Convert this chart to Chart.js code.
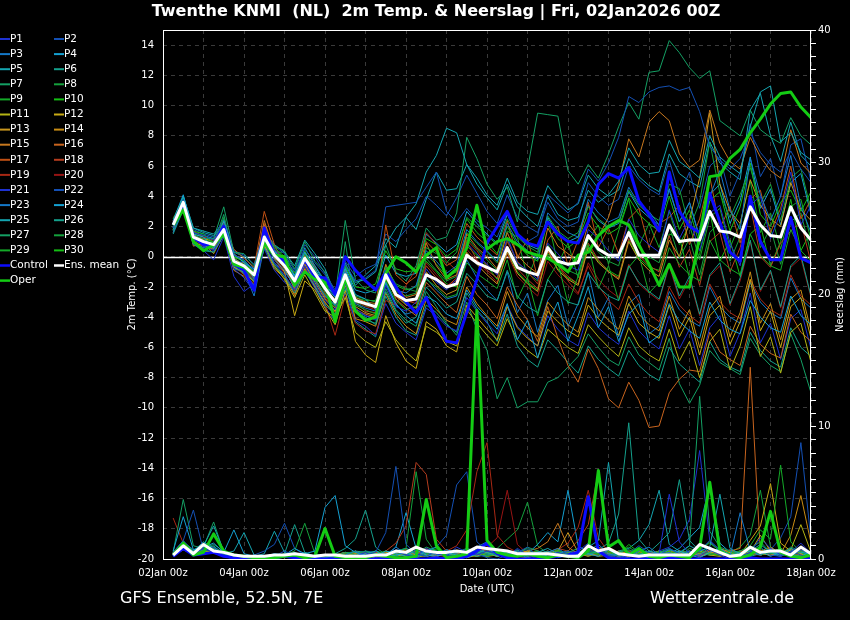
<!DOCTYPE html>
<html>
<head>
<meta charset="utf-8">
<title>Twenthe KNMI (NL) 2m Temp. &amp; Neerslag</title>
<script src="https://cdn.jsdelivr.net/npm/chart.js@4.4.1/dist/chart.umd.min.js"></script>
<style>
    html, body { margin: 0; padding: 0; background: #000; }
    canvas { display: block; }
</style>
</head>
<body>
<canvas id="ens" width="850" height="620"></canvas>
<script>

/* =================================================================
    Data (6-hourly, first value at 02Jan 06z)
================================================================= */

var xTickLabels = ["02Jan 00z", "04Jan 00z", "06Jan 00z", "08Jan 00z", "10Jan 00z",
    "12Jan 00z", "14Jan 00z", "16Jan 00z", "18Jan 00z"];
var stepHours = 6;

var controlTemp = [
    2.1, 3.4, 1.3, 0.8, 0.8, 2.0, -0.5, -0.9, -2.2, 1.9, 0.1, -0.3, -1.7, -0.2, -1.3, -1.4,
    -2.5, 0.0, -0.9, -1.6, -2.2, -1.0, -2.0, -3.0, -3.7, -2.7, -4.2, -5.6, -5.7, -3.7, -1.5, 0.9,
    2.0, 3.0, 1.5, 0.9, 0.7, 2.3, 1.5, 1.0, 0.9, 2.3, 4.8, 5.5, 5.2, 5.9, 3.7, 2.8,
    1.7, 5.6, 3.0, 2.0, 1.6, 4.2, 2.3, 0.3, -0.3, 4.0, 1.0, -0.2, -0.2, 2.6, -0.1, -0.4
];
var operTemp = [
    2.1, 3.1, 1.0, 0.4, 0.8, 1.5, -0.5, -0.7, -1.2, 0.9, 0.1, 0.0, -1.9, -1.0, -1.5, -1.7,
    -4.3, -1.4, -3.6, -4.2, -4.0, -1.1, 0.0, -0.4, -1.0, 0.1, 0.6, -1.4, -0.8, 0.6, 3.4, 0.5,
    1.0, 1.2, 0.8, 0.3, 0.1, -0.1, -0.5, -1.0, 0.1, 0.3, 1.4, 2.0, 2.4, 2.1, 0.8, -0.5,
    -1.9, -0.5, -2.0, -2.0, 1.3, 5.3, 5.4, 6.5, 7.1, 8.2, 9.1, 10.1, 10.8, 10.9, 9.9, 9.2
];
var meanTemp = [
    2.1, 3.6, 1.3, 1.0, 0.8, 1.8, -0.3, -0.6, -1.2, 1.3, 0.1, -0.6, -1.6, -0.1, -1.1, -2.1,
    -3.0, -1.2, -2.9, -3.1, -3.3, -1.2, -2.5, -2.9, -2.8, -1.2, -1.5, -2.0, -1.8, 0.1, -0.4, -0.7,
    -1.0, 0.6, -0.7, -1.0, -1.2, 0.6, -0.3, -0.5, -0.4, 1.4, 0.5, 0.1, 0.1, 1.6, 0.1, 0.1,
    0.1, 2.1, 1.0, 1.1, 1.1, 3.0, 1.7, 1.6, 1.3, 3.3, 2.1, 1.4, 1.3, 3.3, 1.9, 1.1
];

var tempP01 = [
    1.9, 3.4, 1.2, 0.7, 0.4, 1.5, -0.8, -1.4, -2.3, 0.9, -0.4, -1.2, -2.2, -0.6, -1.8, -2.9,
    -3.5, -1.8, -3.4, -3.9, -4.2, -1.9, -3.3, -3.6, -3.0, -0.8, -1.7, -2.2, -1.5, 0.9, 0.2, -0.5,
    -1.2, 1.3, -0.4, -0.9, -1.5, 0.9, 0.2, -0.6, -0.9, 1.8, 1.2, 0.4, -0.3, 2.5, 1.4, 0.8,
    0.3, 3.1, 1.2, 2.5, 0.4, 2.9, 3.4, 0.9, -0.6, 3.4, 4.0, 1.2, 2.9, 5.6, 2.1, 3.4
];
var tempP02 = [
    2.3, 3.8, 1.6, 1.4, 1.1, 2.2, 0.1, -0.2, -0.9, 1.6, 0.5, -0.1, -1.0, 0.5, -0.4, -1.2,
    -2.4, -0.5, -1.6, -1.4, -0.9, 3.3, 3.4, 3.5, 3.6, 4.6, 5.6, 3.0, 2.3, 3.2, 2.4, 1.9,
    1.3, 2.9, 1.5, 1.0, 1.4, 4.1, 3.5, 2.9, 3.6, 5.8, 5.0, 6.2, 7.9, 10.6, 10.2, 10.9,
    11.2, 11.3, 11.0, 11.2, 9.6, 7.3, 6.4, 5.8, 6.5, 8.2, 6.9, 6.1, 5.6, 7.0, 5.8, 4.9
];
var tempP03 = [
    1.6, 3.2, 0.8, 0.6, 0.9, 1.6, -0.5, -0.3, -1.5, 1.1, -0.2, -0.9, -2.0, -0.3, -1.6, -2.6,
    -3.2, -1.0, -3.1, -3.4, -3.6, -0.9, -2.2, -2.4, -1.9, 0.4, -0.3, -1.1, -0.6, 1.8, 1.0, 0.4,
    -0.3, 2.2, 1.0, 0.4, -0.2, 2.9, 2.2, 1.6, 1.3, 3.8, 2.9, 2.3, 2.6, 4.6, 3.5, 3.0,
    2.1, 4.4, 2.3, 3.6, 1.2, 4.0, 5.7, 3.1, 1.8, 6.5, 4.1, 2.4, 4.0, 6.7, 3.3, 1.6
];
var tempP04 = [
    2.4, 4.1, 1.5, 1.3, 0.5, 2.4, 0.2, -0.4, -0.8, 1.8, 0.3, -0.2, -1.3, 0.3, -0.8, -1.9,
    -2.7, -0.8, -2.5, -2.8, -3.5, -1.7, -3.1, -3.9, -4.4, -2.6, -3.0, -3.8, -4.1, -2.2, -3.3, -4.0,
    -4.8, -3.1, -5.5, -4.2, -6.7, -4.4, -3.0, -5.6, -3.9, -2.0, -4.7, -3.3, -5.6, -3.8, -3.1, -5.7,
    -5.2, -3.1, -4.3, -4.9, -5.4, -3.0, -4.2, -4.8, -5.1, -2.9, -4.0, -4.7, -5.0, -2.6, -3.9, -4.5
];
var tempP05 = [
    1.8, 4.0, 1.9, 1.6, 1.4, 2.0, -0.1, -0.9, -1.6, 1.0, 0.4, -0.4, -1.4, 0.6, -0.6, -1.6,
    -2.3, -0.4, -1.9, -1.2, -0.6, 0.8, 1.9, 2.6, 3.5, 5.6, 6.7, 8.5, 8.2, 6.1, 4.8, 3.9,
    3.1, 4.8, 3.3, 2.6, 2.0, 4.0, 2.8, 2.4, 2.6, 4.4, 3.6, 4.1, 5.0, 7.2, 6.1, 5.5,
    5.6, 7.7, 6.3, 5.8, 5.2, 8.0, 6.6, 6.0, 5.5, 8.6, 10.9, 11.3, 7.6, 8.2, 6.9, 6.4
];
var tempP06 = [
    1.5, 3.1, 1.0, 0.4, 0.3, 1.4, -0.6, -1.1, -1.9, 0.6, -0.5, -1.3, -2.4, -1.0, -1.9, -3.2,
    -3.8, -2.1, -3.7, -4.0, -4.5, -2.3, -3.6, -4.4, -4.0, -2.0, -2.7, -3.4, -3.0, -1.1, -1.8, -2.6,
    -2.9, -0.9, -2.6, -3.3, -3.7, -1.5, -2.4, -3.0, -3.2, -1.1, -2.0, -2.6, -2.9, -0.6, -1.7, -2.3,
    -2.8, -0.5, -2.6, -1.3, -3.8, -1.2, -0.4, -3.1, -1.4, 1.1, -2.2, -0.9, -3.3, -0.6, 0.1, -2.6
];
var tempP07 = [
    2.2, 3.5, 1.4, 1.2, 1.2, 3.3, 0.3, 0.2, -0.6, 1.4, 0.7, 0.4, -0.8, 1.0, -0.3, -1.0,
    -2.6, 2.4, -1.5, -2.2, -2.4, 0.8, -1.0, -1.6, -0.6, 1.9, 1.1, 1.3, 2.9, 7.9, 6.5, 4.8,
    3.8, 4.6, 2.3, 5.8, 9.5, 9.4, 9.3, 5.7, 4.8, 6.1, 5.2, 6.8, 8.6, 10.2, 9.1, 12.2,
    12.3, 14.3, 13.5, 12.5, 11.8, 12.3, 9.0, 8.5, 8.0, 9.7, 8.4, 7.9, 7.5, 9.2, 8.0, 7.4
];
var tempP08 = [
    2.0, 3.7, 1.1, 0.9, 0.6, 2.6, -0.2, -0.8, -1.3, 1.5, 0.0, -0.7, -1.7, 0.2, -1.2, -2.3,
    -2.9, -1.0, -2.6, -2.8, -3.0, -0.7, -1.8, -2.1, -2.3, 0.6, 0.2, -0.4, 0.3, 2.6, 2.0, 1.4,
    0.8, 2.5, 1.3, 0.7, 0.3, 2.7, 1.7, 1.2, 1.6, 3.3, 2.5, 2.0, 2.3, 4.4, 3.4, 2.8,
    2.4, 4.8, 4.5, 1.9, 3.6, 7.6, 4.2, 2.6, 4.1, 5.9, 3.5, 4.8, 2.4, 5.2, 5.8, 3.1
];
var tempP09 = [
    1.7, 3.3, 0.9, 1.1, 1.0, 1.7, -0.4, -0.5, -1.0, 1.2, 0.2, -0.5, -1.5, -0.2, -1.4, -2.5,
    -3.3, -1.5, -3.2, -3.5, -3.8, -1.6, -2.9, -3.5, -3.3, -1.5, -2.0, -2.7, -2.5, -0.4, -1.1, -1.6,
    -2.1, -0.2, -2.8, -1.4, -3.9, -1.5, -0.4, -3.1, -1.3, 0.8, -2.1, -0.6, -2.9, -0.7, 0.1, -2.4,
    -1.7, 0.6, -0.5, -1.2, -1.6, 1.1, -0.2, -0.8, -1.2, 1.5, 0.1, -0.6, -0.9, 1.8, 0.4, -0.3
];
var tempP10 = [
    2.5, 3.9, 1.7, 1.5, 0.9, 2.1, 0.0, -0.3, -1.1, 1.7, 0.6, 0.0, -1.1, 0.4, -0.9, -1.7,
    -2.5, -0.6, -2.0, -2.1, -1.8, 0.4, -0.8, -1.0, -0.9, 1.2, 0.8, 0.0, 0.5, 2.5, 1.6, 1.0,
    0.2, 2.0, 0.8, 0.1, -0.3, 2.4, 1.2, 0.6, 1.1, 2.9, 2.0, 1.5, 1.9, 3.9, 2.8, 2.2,
    1.7, 4.0, 1.8, 3.1, 0.8, 3.7, 4.3, 1.7, 3.3, 6.2, 2.8, 2.0, 3.6, 4.4, 3.0, 4.3
];
var tempP11 = [
    2.1, 3.5, 1.2, 0.8, 0.7, 1.9, -0.7, -1.0, -1.7, 0.8, -0.6, -1.5, -2.7, -1.2, -2.4, -3.6,
    -4.0, -2.7, -5.0, -5.6, -6.0, -4.3, -5.5, -6.3, -6.9, -4.6, -5.0, -5.6, -5.9, -3.5, -4.4, -5.2,
    -5.9, -4.1, -5.5, -6.2, -6.7, -4.8, -5.4, -6.0, -6.4, -4.5, -5.3, -6.0, -6.6, -4.7, -5.9, -6.5,
    -6.9, -4.8, -6.9, -5.6, -8.0, -5.6, -4.8, -7.5, -5.9, -3.3, -6.6, -5.3, -7.7, -5.0, -4.4, -7.0
];
var tempP12 = [
    1.9, 3.6, 1.5, 1.0, 0.6, 1.6, -0.3, -0.7, -1.4, 1.2, -0.1, -1.0, -3.9, -1.6, -2.2, -3.4,
    -4.5, -2.2, -5.6, -6.5, -7.0, -3.9, -5.7, -6.9, -7.4, -4.3, -4.8, -5.9, -6.3, -3.2, -4.0, -4.8,
    -5.5, -3.3, -4.7, -5.4, -5.9, -3.6, -4.3, -4.9, -5.3, -3.2, -4.1, -4.7, -5.2, -3.1, -4.4, -5.0,
    -5.4, -3.2, -5.3, -4.0, -6.5, -3.9, -3.2, -5.8, -4.3, -1.5, -4.9, -3.6, -6.0, -3.3, -2.7, -5.4
];
var tempP13 = [
    2.3, 3.4, 1.3, 1.2, 1.0, 2.3, -0.1, -0.6, -1.2, 1.9, 0.2, -0.8, -2.1, -0.5, -1.7, -2.8,
    -3.6, -1.9, -3.3, -3.7, -3.9, -1.4, -2.6, -3.2, -3.4, -1.0, -1.9, -2.5, -2.2, 0.3, -0.5, -1.2,
    -1.8, 0.3, -1.1, -1.8, -2.3, 0.4, -0.9, -1.5, -1.9, 0.6, -0.4, -1.0, -1.5, 1.0, -0.2, -0.9,
    -1.3, 1.1, 0.0, 2.4, 5.2, 9.5, 4.8, 3.0, 2.2, 5.1, 3.4, 2.5, 2.0, 4.9, 3.1, 2.4
];
var tempP14 = [
    1.8, 3.7, 0.7, 0.9, 0.2, 1.5, -0.9, -1.3, -2.0, 0.7, -0.8, -1.4, -2.5, -0.8, -2.0, -3.0,
    -3.9, -1.4, -4.1, -4.3, -4.6, -2.4, -3.8, -4.6, -5.1, -2.8, -3.5, -4.2, -4.5, -2.0, -3.1, -3.9,
    -4.6, -2.3, -3.9, -4.7, -5.3, -3.0, -3.8, -4.5, -5.0, -2.7, -3.5, -4.2, -4.8, -2.6, -3.8, -4.5,
    -4.9, -2.6, -4.8, -3.5, -6.0, -3.4, -2.6, -5.3, -3.7, -1.0, -4.4, -3.1, -5.5, -2.8, -2.2, -4.9
];
var tempP15 = [
    2.0, 3.3, 1.4, 1.1, 0.7, 2.0, -0.4, -0.4, -1.1, 2.4, 0.3, -0.3, -1.4, 0.1, -1.0, -2.2,
    -2.8, -0.9, -2.7, -3.0, -3.1, -0.5, -2.0, -2.7, -2.5, 0.9, -0.6, -1.5, -1.2, 1.5, 0.6, 0.0,
    -0.8, 1.6, 0.1, -0.6, -1.1, 1.9, 0.7, 0.2, -0.3, 2.2, 1.3, 2.6, 4.8, 7.8, 6.6, 8.9,
    9.6, 9.0, 6.8, 5.9, 6.4, 9.7, 7.5, 6.3, 5.8, 7.9, 6.6, 5.7, 5.2, 8.4, 6.2, 5.5
];
var tempP16 = [
    2.2, 3.8, 1.0, 0.7, 0.5, 1.7, -0.5, -0.9, -1.6, 2.1, 0.1, -0.6, -1.8, -0.4, -1.5, -2.7,
    -3.4, -1.6, -3.5, -3.8, -4.0, -1.1, -2.8, -3.4, -3.9, -1.7, -2.4, -3.1, -3.7, -1.3, -2.5, -3.2,
    -4.1, -2.0, -3.2, -4.2, -5.6, -3.3, -5.4, -7.2, -8.3, -6.1, -7.4, -9.4, -10.0, -8.3, -9.5, -11.3,
    -11.2, -9.0, -8.1, -7.5, -7.6, -5.0, -6.3, -6.8, -7.2, -4.6, -5.8, -6.4, -6.7, -3.8, -5.0, -5.6
];
var tempP17 = [
    1.6, 3.5, 1.3, 1.0, 0.8, 1.9, 0.5, -0.1, -0.7, 3.0, 0.8, -0.6, -2.0, -0.1, -1.3, -2.0,
    -3.1, -1.1, -2.8, -3.2, -3.4, 2.1, -1.2, -1.8, -1.3, 1.0, 0.3, -0.6, -0.2, 2.2, 1.3, 0.7,
    0.1, 2.4, -0.1, 1.2, -1.4, 1.1, 2.0, -0.6, 1.1, 3.6, 0.6, 1.9, 0.2, 2.5, 3.2, 0.6,
    2.2, 2.6, 3.4, 0.8, 2.5, 5.3, 1.9, 3.3, 0.9, 3.8, 4.4, 1.6, 3.2, 6.0, 2.5, 3.8
];
var tempP18 = [
    2.4, 3.6, 1.7, 1.3, 1.1, 2.1, 0.2, -0.4, -1.0, 2.2, 0.5, -0.2, -2.3, 0.3, -0.7, -2.4,
    -3.7, -1.3, -3.0, -3.6, -3.7, -0.8, -2.4, -2.9, -3.1, -0.6, -1.4, -2.0, -1.4, 1.0, -0.2, -0.9,
    -1.4, 0.7, -0.8, -1.5, -2.1, 0.4, -0.6, -1.3, -1.8, 0.9, -0.2, -1.0, -1.4, 1.2, 0.1, -0.6,
    -1.0, 1.4, -0.7, 0.5, -1.9, 1.0, 1.6, -1.0, 0.6, 3.4, 0.0, -0.7, 0.9, 1.7, 2.3, -0.4
];
var tempP19 = [
    2.6, 3.2, 1.1, 0.8, 0.9, 1.5, -0.6, -1.2, -1.8, 1.6, -0.2, -1.1, -2.6, -0.7, -1.9, -3.1,
    -5.2, -2.6, -4.4, -4.9, -5.1, -2.9, -3.2, -1.9, -0.8, 1.6, 0.8, -0.3, -0.9, 1.1, 0.4, -0.6,
    -1.1, 1.0, -0.3, -1.0, -1.8, 0.6, -0.5, -1.6, -2.4, -0.6, -1.9, -2.9, -3.5, -1.8, -3.0, -3.8,
    -4.3, -2.0, -3.2, -3.9, -4.4, -1.8, -3.0, -3.7, -4.1, -1.5, -2.8, -3.5, -3.9, -1.2, -2.6, -3.2
];
var tempP20 = [
    2.3, 3.6, 1.4, 1.2, 0.6, 2.2, -0.2, -0.7, -1.5, 1.4, 0.0, -0.9, -1.9, -0.3, -1.4, -2.6,
    -3.0, -1.2, -2.9, -3.3, -3.5, -1.3, -2.7, -3.0, -2.9, -0.4, -1.2, -1.9, -1.6, 0.5, -0.3, -1.0,
    -1.7, 0.2, -1.3, -2.0, -2.6, -0.3, -1.2, -1.9, -2.5, -0.4, -1.5, -2.2, -2.7, -0.5, -1.8, -2.4,
    -2.9, -0.6, -2.8, -1.5, -3.9, -1.3, -0.6, -3.2, -1.6, 1.0, -2.3, -1.0, -3.4, -0.7, -0.1, -2.7
];
var tempP21 = [
    1.7, 3.4, 0.8, 0.4, -0.2, 1.3, -1.3, -2.3, -1.8, 0.5, -0.9, -1.7, -2.2, -0.9, -2.1, -3.3,
    -4.3, -2.4, -4.2, -4.6, -5.2, -3.1, -4.4, -5.0, -5.5, -3.4, -3.9, -4.6, -4.9, -2.7, -3.6, -4.4,
    -5.1, -3.2, -4.6, -5.3, -5.9, -3.9, -4.8, -5.5, -5.9, -3.7, -4.7, -5.3, -5.8, -3.6, -4.9, -5.6,
    -6.1, -3.9, -6.1, -4.8, -7.2, -4.7, -3.9, -6.6, -5.0, -2.4, -5.7, -4.4, -6.8, -4.1, -3.5, -6.1
];
var tempP22 = [
    2.1, 3.9, 1.8, 1.5, 1.3, 2.5, 0.4, 0.1, -0.5, 1.8, 0.7, 0.2, -0.9, 0.8, 0.0, -1.1,
    -2.2, -0.3, -1.3, -0.8, -0.5, 1.5, 1.0, 1.8, 2.5, 4.0, 3.4, 2.7, 3.9, 5.4, 4.2, 3.0,
    2.2, 4.1, 2.6, 2.0, 1.6, 3.6, 2.5, 2.0, 2.3, 4.9, 4.0, 3.4, 3.8, 6.0, 5.1, 4.5,
    4.1, 6.4, 4.1, 5.6, 3.2, 6.0, 6.6, 4.0, 5.6, 8.8, 5.3, 6.5, 4.0, 7.4, 7.8, 5.0
];
var tempP23 = [
    1.9, 3.6, 1.0, 0.6, 0.5, 1.4, -0.8, -1.0, -2.6, 0.7, -0.4, -1.0, -1.9, -0.6, -1.5, -2.5,
    -3.3, -1.7, -3.6, -3.9, -4.1, -1.8, -3.2, -3.8, -3.6, -1.4, -2.2, -2.8, -2.6, -0.2, -1.4, -2.2,
    -2.9, -1.0, -3.7, -2.4, -5.0, -2.9, -1.9, -4.6, -3.1, -1.0, -4.0, -2.7, -5.3, -3.1, -2.5, -5.1,
    -4.6, -2.3, -3.5, -4.2, -4.6, -2.0, -3.3, -4.0, -4.4, -1.7, -3.0, -3.7, -4.1, -1.4, -2.8, -3.4
];
var tempP24 = [
    2.2, 3.7, 1.6, 1.4, 1.2, 2.0, 0.1, -0.2, -1.0, 1.5, 0.4, -0.3, -1.2, 0.2, -0.6, -1.8,
    -2.6, -0.7, -2.2, -2.4, -2.2, 0.1, -1.1, -1.3, -1.1, 1.5, 0.9, 0.3, 0.8, 3.0, 2.2, 1.5,
    0.9, 2.8, 1.4, 0.8, 0.5, 2.6, 1.5, 1.0, 1.3, 3.4, 2.4, 1.9, 2.2, 4.3, 3.2, 2.6,
    2.1, 4.5, 2.3, 3.6, 1.3, 4.1, 4.8, 2.2, 3.7, 6.6, 3.2, 4.5, 2.1, 4.9, 5.5, 2.8
];
var tempP25 = [
    2.0, 4.0, 1.9, 1.7, 1.5, 2.3, 0.3, 0.0, -0.8, 1.7, 0.8, 0.3, -0.6, 1.1, 0.2, -0.8,
    -2.5, -0.5, -1.7, -1.5, -1.0, 1.2, 0.6, 2.6, 1.8, 3.8, 5.6, 4.4, 4.5, 6.1, 5.2, 4.1,
    3.4, 5.2, 3.6, 3.0, 2.8, 4.7, 3.8, 3.1, 3.5, 5.4, 4.5, 4.0, 4.4, 6.5, 5.3, 4.7,
    4.3, 6.8, 5.5, 5.0, 4.6, 7.6, 6.2, 5.6, 5.1, 9.7, 10.8, 8.0, 6.3, 8.9, 6.7, 6.0
];
var tempP26 = [
    1.8, 3.3, 0.9, 0.5, 0.3, 1.6, -0.7, -1.1, -1.9, 0.9, -0.7, -1.3, -2.2, -0.7, -2.0, -3.1,
    -3.6, -1.9, -4.3, -4.8, -5.3, -2.6, -4.0, -4.9, -5.2, -3.2, -3.7, -4.5, -5.0, -2.4, -3.5, -4.3,
    -5.6, -3.8, -5.9, -6.8, -7.3, -5.5, -6.2, -7.0, -7.7, -5.9, -6.8, -7.4, -7.9, -6.2, -7.2, -7.8,
    -8.2, -6.0, -7.1, -7.7, -8.3, -5.6, -6.8, -7.3, -7.6, -5.0, -6.2, -6.9, -7.3, -4.7, -6.0, -6.6
];
var tempP27 = [
    2.1, 3.6, 1.1, 1.0, 0.9, 2.8, -0.1, -0.5, -1.1, 1.6, 0.3, 0.3, -1.3, 0.2, -0.9, -2.0,
    -4.4, 1.0, -3.5, -4.2, -4.4, -2.1, -3.5, -4.2, -4.6, -2.3, -3.3, -4.4, -5.2, -3.0, -4.8, -6.2,
    -9.4, -8.0, -10.0, -9.6, -9.6, -8.3, -8.0, -7.3, -6.6, -5.1, -6.0, -6.8, -7.2, -5.3, -6.5, -7.0,
    -7.5, -5.4, -8.4, -9.7, -8.5, -6.2, -7.0, -7.4, -7.8, -5.4, -6.5, -7.2, -7.6, -5.1, -6.8, -9.0
];
var tempP28 = [
    1.9, 3.5, 1.3, 0.8, 0.6, 1.8, -0.4, -0.8, -1.5, 1.1, 0.0, -0.6, -1.7, -0.1, -1.2, -2.2,
    -3.0, -1.5, -3.0, -3.3, -3.2, -1.0, -2.3, -2.6, -2.4, -0.1, -0.9, -1.6, -1.3, 1.3, 0.5, -0.2,
    -0.9, 1.1, -0.4, -1.1, -1.6, 0.8, -0.3, -0.9, -1.2, 1.3, 0.3, -0.3, -0.6, 1.8, 0.6, 0.0,
    -0.4, 2.0, -0.1, 1.2, -1.2, 1.6, 2.3, -0.3, 1.3, 4.0, 0.6, 1.9, -0.5, 2.3, 2.9, 0.2
];
var tempP29 = [
    2.4, 3.4, 1.2, 1.1, 1.0, 1.9, -0.3, -0.6, -1.2, 1.3, 0.1, -0.7, -1.6, 0.0, -1.1, -2.3,
    -2.9, -1.2, -2.7, -2.9, -2.9, -0.6, -1.9, -2.2, -2.0, 0.2, -0.5, -1.3, -1.0, 1.6, 0.9, 0.3,
    -0.4, 1.7, 1.3, -1.4, 0.2, 2.5, -0.5, 0.9, -1.4, 1.1, 2.1, -0.5, 1.7, 3.8, 0.7, 2.2,
    0.6, 3.0, 0.8, 2.1, -0.2, 2.6, 3.2, 0.6, 2.2, 5.0, 1.6, 2.9, 0.5, 3.3, 3.8, 1.1
];
var tempP30 = [
    2.2, 3.7, 1.5, 1.3, 0.9, 2.2, 0.0, -0.3, -0.9, 1.5, 0.2, -0.4, -1.4, 0.3, -0.8, -1.9,
    -3.2, -1.4, -3.0, -3.1, -3.4, -1.5, -2.6, -3.1, -2.7, -0.3, -1.0, -1.8, -2.0, 0.7, 0.1, -0.6,
    -1.5, 0.5, -1.0, -1.7, -2.2, 0.2, -0.8, -1.4, -1.8, 0.7, -0.3, -0.9, -1.3, 1.1, -0.1, -0.7,
    -0.9, 1.5, 1.3, -1.4, 0.2, 3.0, -0.3, 1.1, -1.3, 1.5, 2.1, -0.6, 1.0, 3.8, 0.4, 1.7
];

var controlRain = [
    0.2, 0.8, 0.3, 0.4, 0.5, 0.2, 0.1, 0, 0, 0, 0.1, 0.2, 0.1, 0, 0, 0,
    0, 0, 0, 0, 0, 0, 0.1, 0, 0, 0, 0.1, 0, 0, 0.2, 0.6, 1.2,
    0.4, 0.1, 0, 0, 0, 0.1, 0.2, 0.3, 0.5, 4.7, 0.6, 0.1, 0, 0, 0, 0,
    0, 0.1, 0, 0, 0, 0, 0, 0, 0, 0.1, 0, 0, 0, 0, 0, 0
];
var operRain = [
    0.3, 1.2, 0.3, 0.5, 1.9, 0.6, 0.3, 0.2, 0.1, 0, 0.1, 0.2, 0.3, 0.1, 0.2, 2.3,
    0.2, 0.1, 0, 0.1, 0.3, 0.2, 0.1, 0.1, 0.2, 4.5, 1.0, 0.1, 0.2, 0.4, 18.8, 1.4,
    0.5, 0.3, 0.2, 0.4, 0.2, 0.1, 0.3, 0.2, 0.1, 0.6, 6.7, 0.9, 1.4, 0.3, 0.8, 0.2,
    0.1, 0.3, 0.2, 0.1, 0.8, 5.8, 0.6, 0.2, 0.1, 0.3, 0.9, 3.6, 0.5, 0.2, 0.1, 0.3
];
var meanRain = [
    0.3, 1.0, 0.4, 1.1, 0.6, 0.5, 0.3, 0.2, 0.2, 0.2, 0.3, 0.3, 0.4, 0.3, 0.2, 0.3,
    0.3, 0.2, 0.2, 0.2, 0.3, 0.3, 0.6, 0.5, 0.9, 0.6, 0.5, 0.5, 0.6, 0.5, 0.9, 0.8,
    0.7, 0.6, 0.4, 0.4, 0.4, 0.4, 0.3, 0.2, 0.2, 1.0, 0.6, 0.8, 0.4, 0.3, 0.2, 0.3,
    0.3, 0.3, 0.3, 0.3, 1.1, 0.8, 0.5, 0.2, 0.3, 0.9, 0.5, 0.6, 0.6, 0.3, 0.9, 0.4
];

var rainP01 = [
    0.3, 1.0, 0.4, 0.8, 0.5, 0.2, 0, 0, 0, 0.1, 0.3, 0.2, 0.4, 0, 0, 0,
    0, 0, 0.2, 0.5, 0.1, 0, 0.6, 0.3, 0.2, 0.8, 0.4, 0.2, 0.9, 0.5, 0.3, 0.6,
    0.4, 0.2, 0.8, 0.3, 0, 0.2, 0.5, 0.1, 0.6, 1.2, 0.5, 0.2, 0, 0.3, 0.8, 0.2,
    0.4, 4.9, 1.3, 0.4, 0.2, 0.7, 0.3, 0, 0.2, 0.5, 1.6, 0.8, 0.3, 0.5, 1.2, 0.4
];
var rainP02 = [
    0.5, 1.4, 3.7, 0.6, 0.9, 0.3, 0.1, 0, 0, 0, 0.2, 0.6, 0.3, 0.1, 0, 0,
    0.2, 0, 0, 0.3, 0.5, 2.0, 7.0, 1.1, 0.4, 0.2, 0.6, 0.3, 0.2, 0.8, 0.4, 0.1,
    0, 0.3, 0.5, 0.9, 0.2, 0, 0.3, 0.6, 0.2, 0.5, 0.8, 0.3, 0.1, 0.4, 1.0, 0.5,
    0.3, 0.8, 0.4, 0.2, 0.6, 1.4, 0.7, 0.2, 0, 0.4, 0.9, 0.3, 0.2, 0.6, 0.3, 0.1
];
var rainP03 = [
    0.2, 0.8, 0.5, 1.1, 0.6, 0.4, 0.2, 0, 0.1, 0, 0, 0.4, 0.2, 0, 0.1, 0,
    0, 0.3, 0.6, 0.2, 0, 0.2, 0.9, 0.4, 0.1, 0.5, 0.3, 0.7, 0.4, 0.2, 0.9, 1.3,
    0.5, 0.2, 0.4, 0.1, 0, 0.5, 0.8, 0.3, 0.2, 0.6, 1.1, 0.4, 0.2, 0.1, 0.6, 0.9,
    0.3, 0.5, 0.2, 0.6, 0.3, 0.9, 0.4, 0.2, 3.5, 0.6, 0.3, 0.8, 0.4, 0.2, 0.7, 0.3
];
var rainP04 = [
    0.6, 3.2, 0.7, 0.9, 1.2, 0.5, 0.3, 0.1, 0, 0.2, 0.4, 0.3, 0.8, 0.4, 0.6, 3.9,
    4.8, 1.0, 0.5, 0.3, 0.2, 0.6, 0.4, 0.2, 0.7, 0.3, 0.2, 0.5, 0.3, 0.1, 0.4, 0.8,
    0.3, 0.6, 0.2, 0.4, 0.5, 0.2, 0.1, 0.3, 0.6, 0.4, 0.2, 0.7, 0.3, 0.5, 0.2, 0.1,
    0.4, 0.2, 0.6, 0.3, 0.1, 0.5, 0.8, 0.3, 0.2, 0.4, 0.6, 0.2, 0.5, 0.3, 0.2, 0.6
];
var rainP05 = [
    0.4, 1.1, 0.6, 1.3, 0.8, 0.4, 0.6, 2.0, 0.3, 0.1, 0, 0.2, 0.5, 0.2, 0, 0.1,
    0.3, 0, 0.2, 0.4, 0.6, 0.2, 0.3, 0.5, 0.2, 0.6, 0.9, 0.4, 0.2, 0.3, 0.7, 0.5,
    0.2, 0.4, 0.6, 0.3, 0.5, 0.8, 0.4, 0.6, 0.3, 0.9, 1.4, 7.3, 1.2, 0.5, 0.3, 0.6,
    0.4, 0.7, 0.5, 1.0, 0.6, 0.9, 4.9, 0.8, 0.4, 0.6, 1.1, 0.5, 0.3, 0.8, 0.5, 0.4
];
var rainP06 = [
    0.3, 0.9, 0.5, 0.7, 1.0, 0.3, 0.2, 0.1, 0, 0, 0.3, 0.1, 0.2, 0.5, 0.2, 0,
    0.4, 0.8, 1.5, 3.7, 0.9, 0.3, 0.2, 0.6, 0.4, 0.2, 0.5, 0.3, 0.6, 0.4, 0.2, 0.3,
    0.5, 0.3, 0.7, 0.2, 0.4, 0.6, 0.3, 0.2, 0.5, 0.3, 0.6, 0.2, 0.4, 0.3, 0.7, 0.5,
    1.2, 2.0, 6.0, 1.4, 0.6, 0.9, 0.4, 0.3, 0.5, 0.2, 0.4, 0.7, 0.3, 0.5, 0.9, 0.4
];
var rainP07 = [
    0.5, 4.5, 1.0, 0.8, 1.1, 0.6, 0.3, 0.2, 0.1, 0, 0.2, 0.3, 0.1, 0.4, 0.2, 0,
    0.2, 0.5, 0.3, 0.6, 0.4, 0.2, 0.5, 0.8, 0.4, 0.9, 0.6, 0.3, 0.5, 0.8, 0.6, 0.4,
    0.7, 0.5, 0.3, 0.9, 0.6, 0.4, 0.2, 0.5, 0.8, 0.4, 0.6, 0.3, 0.5, 0.7, 0.4, 0.2,
    0.5, 0.8, 0.4, 1.0, 12.3, 2.1, 0.9, 0.6, 0.4, 0.8, 1.3, 0.5, 0.3, 0.9, 0.6, 0.4
];
var rainP08 = [
    0.2, 0.9, 0.4, 0.6, 0.7, 0.3, 0.1, 0, 0, 0.2, 0.1, 0.3, 0.6, 2.7, 0.4, 0.2,
    0, 0.3, 0.2, 0.5, 0.4, 0.1, 0.6, 0.8, 6.6, 1.5, 0.4, 0.3, 0.2, 0.5, 0.6, 0.3,
    0.4, 0.2, 0.5, 0.8, 0.3, 0.2, 0.6, 0.4, 0.3, 0.7, 0.4, 0.2, 0.5, 0.9, 0.4, 0.3,
    0.6, 0.4, 0.2, 0.8, 0.5, 0.3, 0.6, 0.2, 0.4, 0.7, 0.3, 0.5, 0.8, 0.4, 0.2, 0.6
];
var rainP09 = [
    0.4, 1.3, 0.6, 0.9, 0.8, 0.5, 0.2, 0.1, 0, 0, 0.2, 0.4, 0.3, 0.1, 0, 0.2,
    0.1, 0.4, 0.6, 0.3, 0.2, 0.4, 0.5, 0.3, 0.2, 0.4, 0.7, 0.5, 0.3, 0.2, 0.4, 0.6,
    0.3, 0.5, 0.2, 0.4, 0.6, 0.3, 0.5, 0.2, 0.4, 0.6, 0.3, 0.5, 0.2, 0.4, 0.7, 0.3,
    0.5, 0.3, 0.6, 0.4, 0.8, 1.2, 0.6, 0.4, 0.6, 1.0, 2.2, 1.5, 7.1, 1.3, 0.5, 0.3
];
var rainP10 = [
    0.3, 1.0, 0.5, 0.7, 0.9, 0.4, 0.2, 0, 0.1, 0, 0, 0.3, 0.2, 0.4, 0.1, 0,
    0.2, 0.3, 0.5, 0.2, 0.4, 0.6, 0.3, 0.5, 0.2, 0.3, 0.8, 0.4, 0.6, 0.3, 0.5, 0.2,
    0.4, 0.6, 0.3, 0.2, 0.5, 0.4, 0.7, 0.3, 0.2, 0.5, 0.4, 0.6, 0.3, 1.1, 0.5, 0.2,
    0.4, 0.6, 0.3, 0.5, 0.7, 0.4, 0.3, 0.6, 0.2, 0.5, 0.8, 0.4, 0.6, 0.3, 0.5, 0.2
];
var rainP11 = [
    0.2, 0.7, 0.3, 0.5, 0.6, 0.2, 0.1, 0, 0, 0, 0.1, 0.2, 0.1, 0, 0, 0,
    0.1, 0.2, 0.3, 0.1, 0, 0.2, 0.4, 0.2, 0.1, 0.3, 0.2, 0.4, 0.2, 0.1, 0.3, 0.5,
    0.2, 0.4, 0.2, 0.1, 0.3, 0.5, 0.2, 0.4, 0.3, 0.6, 0.4, 0.2, 0.1, 0.3, 0.5, 0.2,
    0.1, 0.3, 0.2, 0.4, 0.6, 0.3, 0.2, 0.4, 0.3, 0.5, 1.8, 0.6, 0.3, 0.7, 2.6, 0.5
];
var rainP12 = [
    0.3, 0.8, 0.4, 0.6, 0.5, 0.3, 0.1, 0, 0, 0.1, 0, 0.2, 0.3, 0.1, 0, 0,
    0, 0.2, 0.4, 0.2, 0.1, 0.3, 0.2, 0.4, 0.2, 0.5, 0.3, 0.2, 0.4, 0.3, 0.2, 0.6,
    0.3, 0.2, 0.4, 0.6, 0.3, 0.2, 0.4, 0.3, 0.5, 0.4, 0.2, 0.3, 0.6, 0.4, 0.2, 0.3,
    0.4, 0.6, 0.3, 0.5, 0.2, 0.4, 0.8, 0.5, 0.3, 1.4, 2.5, 5.7, 1.2, 0.6, 0.3, 0.4
];
var rainP13 = [
    0.4, 1.2, 0.5, 0.8, 0.7, 0.4, 0.2, 0.1, 0, 0, 0.2, 0.1, 0.3, 0.2, 0, 0.1,
    0.3, 0.5, 0.2, 0.4, 0.3, 0.1, 0.5, 0.7, 0.3, 0.2, 0.4, 0.6, 0.3, 0.5, 0.2, 0.4,
    0.6, 0.3, 0.5, 0.2, 0.4, 0.3, 0.6, 2.0, 0.5, 0.3, 0.6, 0.4, 0.2, 0.5, 0.3, 0.4,
    0.6, 0.3, 0.5, 0.2, 0.4, 0.7, 0.3, 0.5, 0.2, 0.6, 0.4, 0.3, 0.5, 0.8, 0.4, 0.3
];
var rainP14 = [
    0.3, 0.9, 0.4, 0.7, 0.6, 0.3, 0.2, 0, 0.1, 0, 0.1, 0.3, 0.2, 0, 0.2, 0.1,
    0.4, 0.2, 0.6, 0.3, 0.2, 0.5, 0.3, 0.4, 0.5, 0.3, 0.2, 0.4, 0.6, 0.3, 0.4, 0.2,
    0.3, 0.5, 0.2, 0.4, 0.6, 0.3, 0.2, 0.5, 0.4, 0.2, 0.6, 0.3, 0.5, 0.2, 0.4, 0.6,
    0.3, 0.5, 0.2, 0.4, 0.3, 0.6, 0.4, 0.2, 0.5, 0.3, 0.6, 0.9, 0.4, 1.8, 4.8, 1.2
];
var rainP15 = [
    0.2, 0.8, 0.3, 0.6, 0.5, 0.2, 0.1, 0, 0, 0.1, 0.2, 0.1, 0.2, 0.3, 0.1, 0,
    0.2, 0.4, 0.3, 0.5, 0.2, 0.3, 0.6, 0.4, 0.3, 0.5, 0.4, 0.2, 0.3, 0.6, 0.4, 0.5,
    0.3, 0.2, 0.4, 0.6, 0.8, 1.3, 2.7, 0.9, 0.4, 0.6, 0.3, 0.5, 0.2, 0.4, 0.6, 0.3,
    0.5, 0.3, 0.6, 0.4, 0.2, 0.5, 0.3, 0.6, 0.4, 0.7, 0.3, 0.5, 0.8, 0.4, 0.6, 0.3
];
var rainP16 = [
    0.4, 1.1, 0.5, 0.7, 0.8, 0.3, 0.1, 0, 0, 0, 0.2, 0.3, 0.1, 0.2, 0, 0,
    0.1, 0.3, 0.5, 0.2, 0.4, 0.3, 0.5, 0.6, 0.4, 0.2, 0.5, 0.3, 0.4, 0.6, 0.3, 0.4,
    0.2, 0.5, 0.3, 0.4, 0.2, 0.6, 0.4, 0.3, 0.5, 0.3, 0.4, 0.6, 0.3, 0.2, 0.5, 0.4,
    0.3, 0.6, 0.4, 0.2, 0.5, 0.3, 0.4, 0.6, 0.8, 14.5, 0.5, 0.3, 0.6, 0.4, 0.2, 0.5
];
var rainP17 = [
    0.3, 1.0, 0.4, 0.6, 0.7, 0.3, 0.1, 0, 0, 0.1, 0, 0.2, 0.4, 0.2, 0.1, 0,
    0.2, 0.4, 0.3, 0.2, 0.5, 0.3, 0.4, 0.2, 0.6, 0.3, 0.5, 0.2, 0.4, 0.3, 0.6, 0.8,
    0.4, 0.6, 0.3, 0.5, 0.2, 0.4, 0.3, 0.6, 0.4, 0.5, 0.9, 0.6, 0.3, 0.5, 0.2, 0.4,
    0.3, 0.6, 0.4, 0.5, 0.3, 0.7, 0.4, 0.3, 0.6, 0.4, 0.3, 0.5, 0.7, 0.3, 0.5, 0.4
];
var rainP18 = [
    0.5, 1.3, 0.6, 0.8, 0.9, 0.4, 0.2, 0.1, 0, 0, 0.3, 0.2, 0.1, 0.3, 0, 0.2,
    0.3, 0.2, 0.5, 0.4, 0.3, 0.6, 1.2, 2.5, 7.3, 6.4, 1.5, 0.6, 0.4, 0.3, 0.5, 0.7,
    0.5, 0.3, 0.6, 0.4, 0.3, 0.5, 0.8, 0.6, 1.4, 2.6, 6.6, 0.9, 0.5, 0.3, 0.6, 0.4,
    0.5, 0.3, 0.6, 0.4, 0.7, 0.5, 0.3, 0.6, 0.4, 0.8, 0.5, 0.3, 0.6, 0.4, 0.3, 0.5
];
var rainP19 = [
    3.1, 1.2, 0.6, 0.8, 0.7, 0.3, 0.1, 0, 0, 0.2, 0.1, 0.3, 0.2, 0, 0.1, 0,
    0.3, 0.2, 0.4, 0.3, 0.5, 0.2, 0.4, 0.6, 0.5, 0.8, 0.4, 0.6, 1.0, 2.2, 6.6, 8.8,
    1.8, 0.9, 0.5, 0.3, 0.6, 0.4, 0.7, 1.2, 2.4, 5.2, 1.6, 0.5, 0.3, 0.6, 0.4, 0.3,
    0.5, 0.3, 0.6, 0.4, 0.3, 0.5, 0.7, 0.4, 0.3, 0.6, 0.4, 0.8, 0.5, 0.3, 0.6, 0.4
];
var rainP20 = [
    0.4, 1.1, 0.5, 0.7, 0.6, 0.3, 0.2, 0, 0.1, 0, 0.2, 0.1, 0.3, 0.2, 0, 0.1,
    0.2, 0.3, 0.5, 0.2, 0.4, 0.3, 0.6, 0.4, 0.3, 0.5, 0.2, 0.4, 0.6, 0.3, 0.5, 0.9,
    1.6, 5.2, 1.1, 0.4, 0.6, 0.3, 0.5, 0.2, 0.4, 0.6, 0.3, 0.5, 0.4, 0.2, 0.6, 0.3,
    0.5, 0.4, 0.2, 0.6, 0.3, 0.5, 0.4, 0.7, 0.3, 0.5, 0.4, 0.6, 0.3, 0.5, 0.7, 0.4
];
var rainP21 = [
    0.3, 0.9, 0.4, 0.6, 0.8, 0.3, 0.1, 0, 0, 0.1, 0.2, 0.3, 0.1, 0.2, 0, 0,
    0.2, 0.4, 0.3, 0.5, 0.2, 0.4, 0.3, 0.6, 0.4, 0.3, 0.5, 0.2, 0.6, 0.4, 0.3, 0.5,
    0.2, 0.4, 0.6, 0.3, 0.5, 0.2, 0.4, 0.6, 0.3, 0.5, 0.4, 0.2, 0.6, 0.3, 0.5, 0.4,
    0.6, 0.9, 1.5, 3.0, 8.2, 1.4, 0.5, 0.3, 0.6, 0.4, 0.3, 0.5, 0.8, 0.4, 0.6, 0.3
];
var rainP22 = [
    0.5, 1.4, 0.6, 0.9, 0.8, 0.4, 0.2, 0.1, 0.3, 0.6, 1.1, 2.7, 0.8, 0.3, 0.1, 0,
    0.2, 0.4, 0.3, 0.6, 0.5, 0.3, 0.7, 0.5, 0.4, 0.6, 0.9, 1.8, 5.6, 6.6, 1.3, 0.6,
    0.4, 0.3, 0.5, 0.7, 0.4, 0.6, 0.3, 0.5, 0.6, 0.4, 0.3, 0.7, 0.5, 0.4, 0.6, 0.3,
    0.5, 0.7, 0.4, 0.6, 0.3, 0.5, 0.8, 0.4, 0.6, 0.9, 0.5, 0.7, 1.6, 3.2, 8.8, 1.4
];
var rainP23 = [
    0.2, 0.8, 0.4, 0.5, 0.6, 0.2, 0.1, 0, 0, 0, 0.1, 0.2, 0.3, 0.1, 0, 0,
    0.1, 0.3, 0.2, 0.4, 0.3, 0.2, 0.5, 0.3, 0.4, 0.2, 0.3, 0.5, 0.2, 0.4, 0.3, 0.2,
    0.5, 0.3, 0.4, 0.2, 0.6, 0.3, 0.5, 0.4, 0.2, 0.4, 0.6, 0.3, 0.5, 0.2, 0.4, 0.3,
    0.6, 0.4, 0.3, 0.5, 0.2, 0.4, 0.6, 0.3, 0.5, 0.3, 0.6, 0.4, 0.2, 0.5, 0.3, 0.4
];
var rainP24 = [
    0.4, 1.2, 0.5, 0.8, 0.9, 0.5, 2.2, 0.4, 0.2, 0, 0.1, 0.3, 0.2, 0.4, 0.1, 0,
    0.3, 0.5, 0.4, 0.2, 0.6, 0.3, 0.9, 3.5, 0.8, 0.4, 0.6, 0.3, 0.5, 0.2, 0.4, 0.7,
    0.5, 0.3, 0.6, 0.4, 1.1, 2.0, 1.3, 5.2, 1.0, 0.5, 0.3, 0.6, 0.4, 0.2, 0.5, 0.3,
    0.6, 0.4, 0.8, 1.6, 2.4, 5.6, 1.2, 0.5, 0.3, 0.6, 0.4, 0.5, 0.3, 0.7, 0.4, 0.5
];
var rainP25 = [
    0.5, 1.3, 0.7, 1.0, 2.5, 0.6, 0.3, 0.1, 0.2, 0.4, 2.1, 0.5, 0.2, 0.1, 0, 0.2,
    0.4, 0.3, 0.6, 0.5, 0.3, 0.4, 0.6, 0.8, 0.5, 0.3, 0.4, 0.7, 0.5, 0.3, 0.6, 0.4,
    0.3, 0.5, 0.4, 0.6, 0.3, 0.5, 0.4, 0.2, 0.6, 0.3, 0.5, 0.4, 0.6, 0.8, 1.4, 2.6,
    5.2, 1.1, 0.6, 0.4, 0.3, 0.5, 0.7, 0.4, 0.6, 0.3, 0.5, 0.4, 0.6, 0.3, 0.5, 0.4
];
var rainP26 = [
    0.3, 1.0, 0.5, 0.7, 0.8, 0.4, 0.2, 0.1, 0, 0.2, 0.1, 0.4, 2.6, 0.5, 0.2, 0,
    0.1, 0.3, 0.5, 0.2, 0.4, 0.3, 0.2, 0.5, 0.3, 0.4, 0.2, 0.6, 0.3, 0.5, 0.4, 0.2,
    0.4, 0.6, 0.3, 0.5, 0.2, 0.4, 0.6, 0.3, 0.5, 0.4, 0.7, 1.2, 3.4, 10.3, 1.5, 0.6,
    0.4, 0.3, 0.5, 0.6, 0.4, 0.3, 0.5, 0.7, 0.4, 0.6, 0.3, 0.5, 0.4, 0.6, 0.3, 0.5
];
var rainP27 = [
    0.4, 1.1, 0.6, 0.9, 2.8, 0.5, 0.2, 0.1, 0, 0.1, 0.2, 0.3, 0.4, 0.2, 0, 0.1,
    0.2, 0.4, 0.3, 0.5, 0.2, 0.6, 0.4, 0.3, 0.5, 0.3, 0.6, 0.4, 0.2, 0.5, 0.3, 0.6,
    0.4, 0.2, 0.5, 0.3, 0.6, 0.4, 0.2, 0.5, 0.3, 0.6, 0.4, 0.5, 0.3, 0.6, 0.4, 0.2,
    0.5, 0.3, 0.6, 0.4, 0.7, 1.3, 0.6, 0.4, 0.3, 0.5, 0.4, 0.6, 0.3, 0.5, 0.4, 0.6
];
var rainP28 = [
    0.3, 0.9, 0.4, 0.6, 0.7, 0.3, 0.1, 0, 0.1, 0, 0.2, 0.1, 0.3, 0.2, 0.1, 0,
    0.3, 0.2, 0.4, 0.6, 0.3, 0.5, 0.2, 0.4, 0.6, 0.3, 0.5, 0.2, 0.4, 0.6, 0.3, 0.5,
    0.8, 1.5, 2.2, 4.3, 1.0, 0.4, 0.6, 0.3, 0.5, 0.2, 0.4, 0.6, 0.3, 0.5, 0.4, 0.2,
    0.6, 0.4, 0.3, 0.5, 0.4, 0.6, 0.3, 0.5, 0.9, 1.8, 5.2, 0.9, 0.4, 0.6, 0.3, 0.5
];
var rainP29 = [
    0.2, 0.8, 0.3, 0.5, 0.6, 0.2, 0.1, 0, 0, 0.1, 0, 0.2, 0.1, 0.3, 0, 0,
    0.2, 0.3, 0.2, 0.4, 0.3, 0.2, 0.5, 0.3, 0.4, 0.2, 0.5, 0.3, 0.4, 0.2, 0.3, 0.5,
    0.3, 0.4, 0.2, 0.5, 0.3, 0.4, 0.6, 0.3, 0.4, 0.3, 0.5, 0.2, 0.4, 0.6, 0.3, 0.4,
    0.5, 0.3, 0.4, 0.6, 0.3, 0.5, 0.4, 0.3, 0.4, 0.6, 0.3, 0.5, 0.4, 0.3, 0.5, 0.4
];
var rainP30 = [
    0.4, 1.2, 0.5, 0.8, 0.7, 0.4, 0.2, 0.1, 0, 0, 0.2, 0.3, 0.2, 0.1, 0.2, 0,
    0.3, 0.5, 0.4, 0.3, 0.6, 0.4, 0.3, 0.5, 0.4, 0.6, 0.3, 0.5, 0.4, 0.3, 0.6, 0.4,
    0.5, 0.3, 0.6, 0.4, 0.3, 0.5, 0.4, 0.6, 0.3, 0.5, 0.4, 0.6, 0.3, 0.4, 0.6, 0.5,
    0.4, 0.6, 0.3, 0.5, 0.6, 0.4, 0.3, 0.5, 0.6, 0.4, 0.5, 0.3, 0.6, 0.4, 0.5, 0.3
];

var memberTemps = [tempP01, tempP02, tempP03, tempP04, tempP05, tempP06, tempP07, tempP08, tempP09, tempP10,
    tempP11, tempP12, tempP13, tempP14, tempP15, tempP16, tempP17, tempP18, tempP19, tempP20,
    tempP21, tempP22, tempP23, tempP24, tempP25, tempP26, tempP27, tempP28, tempP29, tempP30];
var memberRains = [rainP01, rainP02, rainP03, rainP04, rainP05, rainP06, rainP07, rainP08, rainP09, rainP10,
    rainP11, rainP12, rainP13, rainP14, rainP15, rainP16, rainP17, rainP18, rainP19, rainP20,
    rainP21, rainP22, rainP23, rainP24, rainP25, rainP26, rainP27, rainP28, rainP29, rainP30];

// P21..P30 reuse the colours of P1..P10
var memberColors = [
    "#1e32d2", "#1450b4", "#1478c8", "#14a0d2", "#14a5b0",
    "#14a08c", "#14a064", "#14a03c", "#14aa28", "#14be14",
    "#b4b414", "#c8aa14", "#c8961e", "#c88c14", "#c8781e",
    "#c8641e", "#c05014", "#b43c1e", "#a82814", "#961414"
];

/* =================================================================
    Datasets
================================================================= */

function toPoints(values) {
    return values.map(function (v, i) {
        return { x: (i + 1) * stepHours, y: v };
    });
}

function memberColor(k) {
    return memberColors[k < 20 ? k : k - 20];
}

var datasets = [];

for (var k = 0; k < memberTemps.length; k++) {
    datasets.push({
        label: "P" + (k + 1),
        data: toPoints(memberTemps[k]),
        yAxisID: "y",
        borderColor: memberColor(k),
        borderWidth: 1,
        order: 10
    });
    datasets.push({
        label: "P" + (k + 1) + " rr",
        data: toPoints(memberRains[k]),
        yAxisID: "y1",
        borderColor: memberColor(k),
        borderWidth: 1,
        order: 10
    });
}

datasets.push({ label: "Control", data: toPoints(controlTemp), yAxisID: "y", borderColor: "#0c0cff", borderWidth: 3, order: 4 });
datasets.push({ label: "Control rr", data: toPoints(controlRain), yAxisID: "y1", borderColor: "#0c0cff", borderWidth: 3, order: 4 });
datasets.push({ label: "Oper", data: toPoints(operTemp), yAxisID: "y", borderColor: "#14cc14", borderWidth: 3, order: 3 });
datasets.push({ label: "Oper rr", data: toPoints(operRain), yAxisID: "y1", borderColor: "#14cc14", borderWidth: 3, order: 3 });
datasets.push({ label: "Ens. mean", data: toPoints(meanTemp), yAxisID: "y", borderColor: "#ffffff", borderWidth: 3, order: 2 });
datasets.push({ label: "Ens. mean rr", data: toPoints(meanRain), yAxisID: "y1", borderColor: "#ffffff", borderWidth: 3, order: 2 });

/* =================================================================
    Page furniture: background, zero line, frame, texts, legend
================================================================= */

var font = '"DejaVu Sans", sans-serif';

var pagePlugin = {
    id: "page",
    beforeDraw: function (chart) {
        var c = chart.ctx;
        c.save();
        c.fillStyle = "#000";
        c.fillRect(0, 0, chart.width, chart.height);
        c.restore();
    },
    beforeDatasetsDraw: function (chart) {
        var c = chart.ctx, a = chart.chartArea;
        var y0 = Math.round(chart.scales.y.getPixelForValue(0)) + 0.5;
        c.save();
        c.strokeStyle = "#ffffff";
        c.lineWidth = 1.5;
        c.beginPath();
        c.moveTo(a.left, y0);
        c.lineTo(a.right, y0);
        c.stroke();
        c.restore();
    },
    afterDraw: function (chart) {
        var c = chart.ctx, a = chart.chartArea;
        c.save();

        // frame
        c.strokeStyle = "#ffffff";
        c.lineWidth = 1;
        c.strokeRect(Math.round(a.left) + 0.5, Math.round(a.top) + 0.5,
            Math.round(a.right - a.left) - 1, Math.round(a.bottom - a.top));

        c.fillStyle = "#ffffff";
        c.textBaseline = "middle";

        // title
        c.font = "bold 16px " + font;
        c.textAlign = "center";
        c.fillText("Twenthe KNMI  (NL)  2m Temp. & Neerslag | Fri, 02Jan2026 00Z", 436, 12);

        // axis titles
        c.font = "10px " + font;
        c.fillText("Date (UTC)", (a.left + a.right) / 2, 589);
        var midY = (a.top + a.bottom) / 2;
        c.save();
        c.translate(132, midY);
        c.rotate(-Math.PI / 2);
        c.fillText("2m Temp. (\u00b0C)", 0, 0);
        c.restore();
        c.save();
        c.translate(840, midY);
        c.rotate(-Math.PI / 2);
        c.fillText("Neerslag (mm)", 0, 0);
        c.restore();

        // footer
        c.font = "16px " + font;
        c.textAlign = "left";
        c.fillText("GFS Ensemble, 52.5N, 7E", 120, 599);
        c.fillText("Wetterzentrale.de", 650, 599);

        // legend, two columns
        var entries = [];
        for (var k = 0; k < 30; k++) {
            entries.push({ text: "P" + (k + 1), color: memberColor(k), w: 2 });
        }
        entries.push({ text: "Control", color: "#0c0cff", w: 2.5 });
        entries.push({ text: "Ens. mean", color: "#ffffff", w: 2.5 });
        entries.push({ text: "Oper", color: "#14cc14", w: 2.5 });

        c.font = "10.5px " + font;
        for (var n = 0; n < entries.length; n++) {
            var col = n % 2, row = Math.floor(n / 2);
            var lx = col === 0 ? 0 : 54;
            var ly = 39 + row * 15.1;
            c.strokeStyle = entries[n].color;
            c.lineWidth = entries[n].w;
            c.beginPath();
            c.moveTo(lx, ly);
            c.lineTo(lx + 10, ly);
            c.stroke();
            c.fillText(entries[n].text, lx + 10, ly);
        }

        c.restore();
    }
};

/* =================================================================
    Chart
================================================================= */

var ctx = document.getElementById("ens");

var ensChart = new Chart(ctx, {
    type: "line",
    data: { datasets: datasets },
    plugins: [pagePlugin],
    options: {
        responsive: false,
        devicePixelRatio: 1,
        animation: false,
        events: [],
        layout: { padding: { left: 118, right: 0, top: 30, bottom: 21 } },
        elements: {
            point: { radius: 0 },
            line: { tension: 0, fill: false, borderJoinStyle: "round" }
        },
        plugins: {
            legend: { display: false },
            tooltip: { enabled: false },
            title: { display: false }
        },
        scales: {
            x: {
                type: "linear",
                min: 0,
                max: 384,
                afterFit: function (s) { s.height = 40; },
                grid: { color: "#3a3a3a", drawTicks: false },
                border: { display: false, dash: [4, 4] },
                ticks: {
                    stepSize: 24,
                    autoSkip: false,
                    maxRotation: 0,
                    padding: 8,
                    color: "#ffffff",
                    font: { family: "DejaVu Sans", size: 10 },
                    callback: function (v) {
                        return v % 48 === 0 ? xTickLabels[v / 48] : "";
                    }
                }
            },
            y: {
                position: "left",
                min: -20,
                max: 15,
                afterFit: function (s) { s.width = 45; },
                afterBuildTicks: function (s) {
                    s.ticks = s.ticks.filter(function (t) { return t.value <= 14; });
                },
                grid: { color: "#3a3a3a", drawTicks: false },
                border: { display: false, dash: [4, 4] },
                ticks: {
                    stepSize: 2,
                    padding: 9,
                    color: "#ffffff",
                    font: { family: "DejaVu Sans", size: 10 }
                }
            },
            y1: {
                position: "right",
                min: 0,
                max: 40,
                afterFit: function (s) { s.width = 39; },
                grid: { drawOnChartArea: false, drawTicks: true, tickLength: 5, color: "#ffffff" },
                border: { display: false },
                ticks: {
                    stepSize: 1,
                    autoSkip: false,
                    padding: 2,
                    color: "#ffffff",
                    font: { family: "DejaVu Sans", size: 10 },
                    callback: function (v) {
                        return v % 10 === 0 ? v : "";
                    }
                }
            }
        }
    }
});

</script>
</body>
</html>
